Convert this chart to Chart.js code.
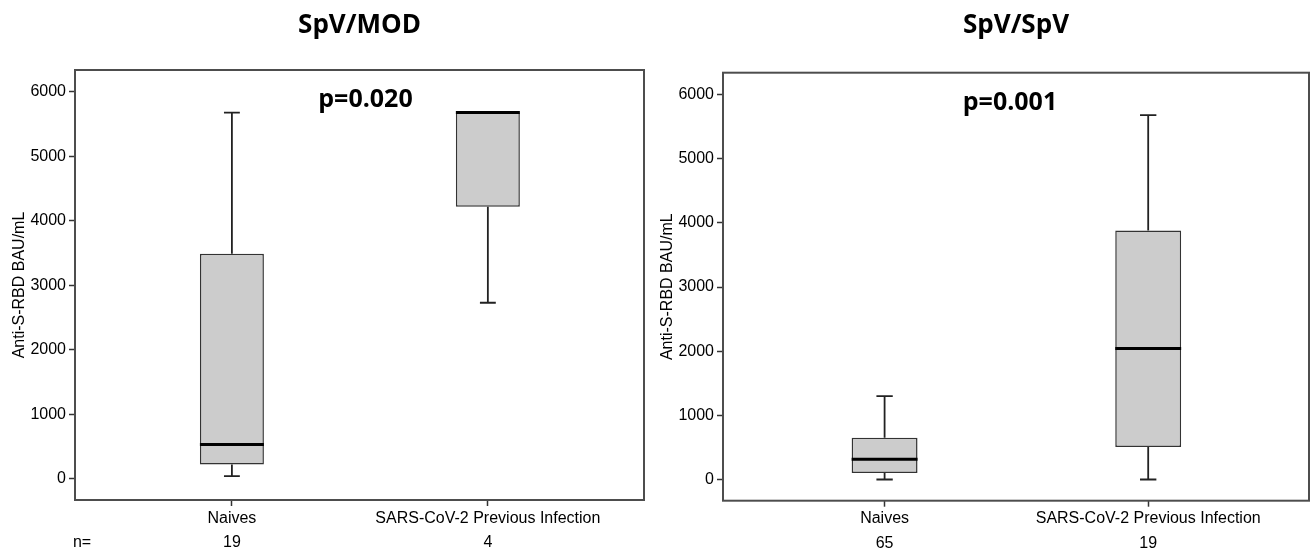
<!DOCTYPE html>
<html>
<head>
<meta charset="utf-8">
<script src="https://cdn.jsdelivr.net/npm/chart.js@4.4.1/dist/chart.umd.min.js"></script>
<style>
  html, body { margin: 0; padding: 0; background: #fff; }
  #wrap { position: relative; width: 1310px; height: 554px; }
  .panel { position: absolute; top: 0; height: 554px; }
  #left { left: 0; width: 648px; }
  #right { left: 648px; width: 662px; }
</style>
</head>
<body>
<div id="wrap">
  <div class="panel" id="left"><canvas id="chartLeft"></canvas></div>
  <div class="panel" id="right"><canvas id="chartRight"></canvas></div>
</div>
<script>
const groups = ["Naives", "SARS-CoV-2 Previous Infection"];
const yTicks = [0, 1000, 2000, 3000, 4000, 5000, 6000];

// SpV/MOD panel
const modN = [19, 4];
const modMin = [40, 2730];
const modQ1 = [220, 4220];
const modMedian = [530, 5680];
const modQ3 = [3490, 5680];
const modMax = [5680, 5680];

// SpV/SpV panel
const spvN = [65, 19];
const spvMin = [0, 0];
const spvQ1 = [100, 505];
const spvMedian = [315, 2040];
const spvQ3 = [650, 3880];
const spvMax = [1300, 5680];

Chart.defaults.font.family = '"Liberation Sans", Arial, sans-serif';
Chart.defaults.color = "#000";

const BOX_W = 0.25;    // box width in x units
const CAP_HALF = 0.031; // half width of whisker caps

// frame round the plot, p value and the "n=" row
const framePlugin = {
    id: "frame",
    afterDatasetsDraw(chart, args, opts) {
        const { ctx, chartArea: a } = chart;
        ctx.save();
        ctx.strokeStyle = "#4d4d4d";
        ctx.lineWidth = 2;
        ctx.strokeRect(a.left, a.top, a.right - a.left, a.bottom - a.top);
        ctx.fillStyle = "#000";
        ctx.textAlign = "center";
        ctx.textBaseline = "alphabetic";
        ctx.font = 'bold 25px "Open Sans"';
        ctx.fillText(opts.pText, (a.left + a.right) / 2 + opts.pShift, a.top + opts.pY);
        if (opts.showN) {
            ctx.font = '16px "Liberation Sans"';
            ctx.textBaseline = "middle";
            ctx.fillText("n=", a.left + 7, a.bottom + 43);
        }
        ctx.restore();
    }
};

function whiskerData(q1, q3, lo, hi) {
    const pts = [];
    groups.forEach((g, i) => {
        const x = i + 1;
        pts.push({ x, y: q3[i] }, { x, y: hi[i] }, { x, y: null });
        pts.push({ x: x - CAP_HALF, y: hi[i] }, { x: x + CAP_HALF, y: hi[i] }, { x, y: null });
        pts.push({ x, y: q1[i] }, { x, y: lo[i] }, { x, y: null });
        pts.push({ x: x - CAP_HALF, y: lo[i] }, { x: x + CAP_HALF, y: lo[i] }, { x, y: null });
    });
    return pts;
}

function medianData(med) {
    const pts = [];
    groups.forEach((g, i) => {
        const x = i + 1;
        pts.push({ x: x - BOX_W / 2, y: med[i] }, { x: x + BOX_W / 2, y: med[i] }, { x, y: null });
    });
    return pts;
}

function makeBoxChart(id, cfg) {
    const ctx = document.getElementById(id).getContext("2d");
    return new Chart(ctx, {
        type: "bar",
        data: {
            datasets: [
                {
                    type: "bar",
                    data: groups.map((g, i) => ({ x: i + 1, y: [cfg.q1[i], cfg.q3[i]] })),
                    backgroundColor: "#cccccc",
                    borderColor: "#333",
                    borderWidth: 1.5,
                    borderSkipped: false,
                    barPercentage: BOX_W,
                    categoryPercentage: 1,
                    order: 2
                },
                {
                    type: "line",
                    data: whiskerData(cfg.q1, cfg.q3, cfg.min, cfg.max),
                    borderColor: "#222",
                    borderWidth: 1.8,
                    pointRadius: 0,
                    spanGaps: false,
                    order: 1
                },
                {
                    type: "line",
                    data: medianData(cfg.median),
                    borderColor: "#000",
                    borderWidth: 3,
                    pointRadius: 0,
                    spanGaps: false,
                    order: 0
                }
            ]
        },
        options: {
            responsive: true,
            maintainAspectRatio: false,
            animation: false,
            events: [],
            layout: { padding: { right: cfg.padRight, top: 0, bottom: 0 } },
            plugins: {
                legend: { display: false },
                tooltip: { enabled: false },
                title: {
                    display: true,
                    text: cfg.title,
                    fullSize: false,
                    color: "#000",
                    font: { family: '"Open Sans"', size: 26, weight: "bold" },
                    padding: { top: 10, bottom: cfg.titleBottom }
                },
                frame: { pText: cfg.pText, pShift: cfg.pShift, pY: 37, showN: cfg.showN }
            },
            scales: {
                x: {
                    type: "linear",
                    min: 0.387,
                    max: 2.61,
                    offset: false,
                    afterBuildTicks: s => { s.ticks = groups.map((g, i) => ({ value: i + 1 })); },
                    afterFit: s => { s.height = cfg.xHeight; },
                    border: { display: false },
                    grid: { drawOnChartArea: false, offset: false, tickLength: 6, color: "#333", tickWidth: 1.5 },
                    ticks: {
                        maxRotation: 0,
                        autoSkip: false,
                        padding: 0,
                        font: { size: 16, lineHeight: 1.53 },
                        callback: v => [groups[v - 1], String(cfg.n[v - 1])]
                    }
                },
                y: {
                    min: -330,
                    max: 6340,
                    afterBuildTicks: s => { s.ticks = yTicks.map(v => ({ value: v })); },
                    afterFit: s => { s.width = 75; },
                    border: { display: false },
                    grid: { drawOnChartArea: false, tickLength: 6, color: "#333", tickWidth: 1.5 },
                    ticks: { padding: 3, font: { size: 16 }, callback: v => String(v) },
                    title: {
                        display: true,
                        text: "Anti-S-RBD BAU/mL",
                        font: { size: 16 },
                        padding: { top: 10, bottom: 0 }
                    }
                }
            }
        },
        plugins: [framePlugin]
    });
}

makeBoxChart("chartLeft", {
    title: "SpV/MOD", pText: "p=0.020", pShift: 6, showN: true,
    n: modN, min: modMin, q1: modQ1, median: modMedian, q3: modQ3, max: modMax,
    padRight: 4, titleBottom: 28.8, xHeight: 54
});

makeBoxChart("chartRight", {
    title: "SpV/SpV", pText: "p=0.001", pShift: -6, showN: false,
    n: spvN, min: spvMin, q1: spvQ1, median: spvMedian, q3: spvQ3, max: spvMax,
    padRight: 1, titleBottom: 31.5, xHeight: 53.3
});
</script>
</body>
</html>
